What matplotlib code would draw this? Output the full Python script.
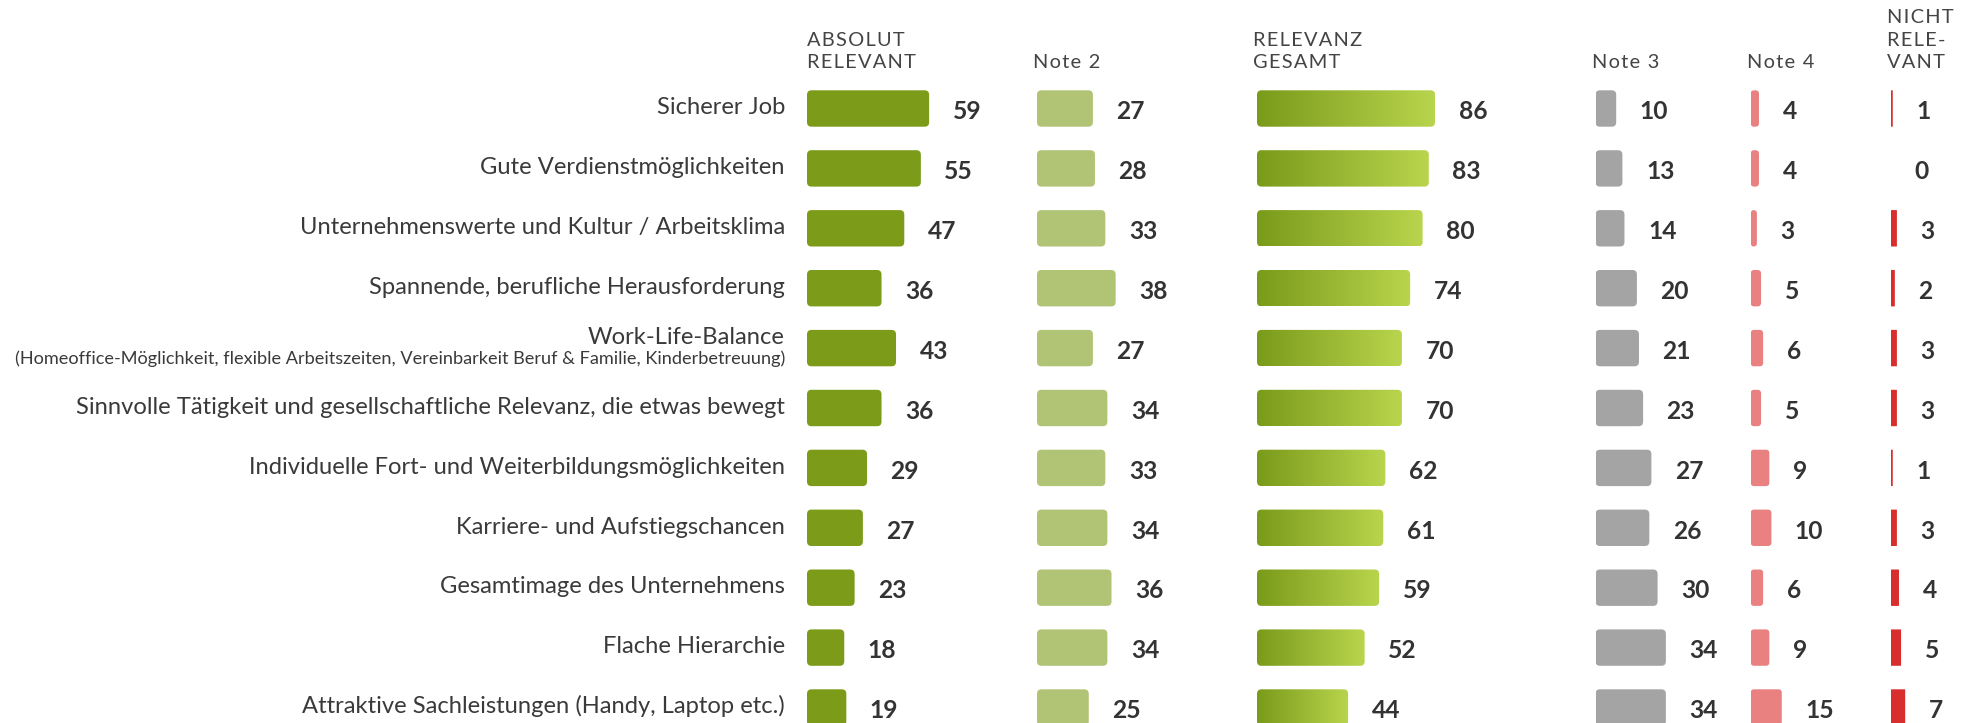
import matplotlib
matplotlib.use("Agg")
import matplotlib.pyplot as plt
import numpy as np
from matplotlib.patches import FancyBboxPatch
from matplotlib.colors import LinearSegmentedColormap
from matplotlib.transforms import offset_copy

plt.rcParams['font.family'] = ['Lato', 'DejaVu Sans']

# --- data ---
categories = [
    "Sicherer Job",
    "Gute Verdienstmöglichkeiten",
    "Unternehmenswerte und Kultur / Arbeitsklima",
    "Spannende, berufliche Herausforderung",
    "Work-Life-Balance",
    "Sinnvolle Tätigkeit und gesellschaftliche Relevanz, die etwas bewegt",
    "Individuelle Fort- und Weiterbildungsmöglichkeiten",
    "Karriere- und Aufstiegschancen",
    "Gesamtimage des Unternehmens",
    "Flache Hierarchie",
    "Attraktive Sachleistungen (Handy, Laptop etc.)",
]
subnotes = {
    4: "(Homeoffice-Möglichkeit, flexible Arbeitszeiten, Vereinbarkeit Beruf & Familie, Kinderbetreuung)",
}

absolut = [59, 55, 47, 36, 43, 36, 29, 27, 23, 18, 19]
note2 = [27, 28, 33, 38, 27, 34, 33, 34, 36, 34, 25]
gesamt = [86, 83, 80, 74, 70, 70, 62, 61, 59, 52, 44]
note3 = [10, 13, 14, 20, 21, 23, 27, 26, 30, 34, 34]
note4 = [4, 4, 3, 5, 6, 5, 9, 10, 6, 9, 15]
nicht = [1, 0, 3, 2, 3, 3, 1, 3, 4, 5, 7]

headers = [
    ["ABSOLUT", "RELEVANT"],
    ["Note 2"],
    ["RELEVANZ", "GESAMT"],
    ["Note 3"],
    ["Note 4"],
    ["NICHT", "RELE-", "VANT"],
]

# --- layout (pixels) ---
W, H = 1972, 723
PX = 2.07          # pixels per percentage point
ROW0 = 108.5       # centre of first row
ROW_STEP = 59.9
BAR_H = 36.4
col_x = [807, 1037, 1257, 1595.5, 1750.7, 1890.7]
hdr_dx = [0, -4, -4, -4, -4, -4]
col_colors = ['#7b9b19', '#b1c476', None, '#a4a4a4', '#e98181', '#d92e2e']
col_radius = [4.5, 4.5, 4.5, 4.5, 3.5, 0.5]
TXT = '#333333'

grad_cmap = LinearSegmentedColormap.from_list('relevanz', ['#7a9a1a', '#b9d54d'])

fig = plt.figure(figsize=(W / 100, H / 100), dpi=100)
fig.patch.set_facecolor('white')


def add_col(x0, span=240):
    ax = fig.add_axes([x0 / W, 0, span / W, 1])
    ax.set_xlim(0, span / PX)
    ax.set_ylim((H - ROW0) / ROW_STEP, -ROW0 / ROW_STEP)
    ax.axis('off')
    return ax


def shifted(ax, dx, dy):
    return offset_copy(ax.transData, fig=fig, x=dx, y=dy, units='dots')


def spaced(s):
    return "\u200a".join(s)


def draw_bar(ax, i, v, color, radius_px, gradient=False):
    if v <= 0:
        return
    h = BAR_H / ROW_STEP
    r = min(radius_px, v * PX / 2, BAR_H / 2) / PX
    patch = FancyBboxPatch((0, i - h / 2), v, h,
                           boxstyle=f"round,pad=0,rounding_size={r}",
                           mutation_aspect=PX / ROW_STEP,
                           fc='none' if gradient else color, ec='none')
    ax.add_patch(patch)
    if gradient:
        g = np.linspace(0, 1, 256).reshape(1, -1)
        im = ax.imshow(g, extent=(0, v, i + h / 2, i - h / 2), cmap=grad_cmap,
                       aspect='auto', interpolation='bilinear')
        im.set_clip_path(patch)


series = [absolut, note2, gesamt, note3, note4, nicht]
axes = []
for c, vals in enumerate(series):
    ax = add_col(col_x[c])
    axes.append(ax)
    for i, v in enumerate(vals):
        draw_bar(ax, i, v, col_colors[c], col_radius[c], gradient=(c == 2))
        ax.text(v, i, str(v), transform=shifted(ax, 23.5, -10.8),
                ha='left', va='baseline', fontsize=17.7, fontweight='bold',
                color=TXT)
    # column header, lines stacked upwards from the bottom line
    lines = headers[c]
    for k, line in enumerate(reversed(lines)):
        ax.text(0, 0, spaced(line), transform=shifted(ax, hdr_dx[c], 40.2 + 22.5 * k),
                ha='left', va='baseline', fontsize=14.4, color='#444444')
    ax.set_xlim(0, 240 / PX)
    ax.set_ylim((H - ROW0) / ROW_STEP, -ROW0 / ROW_STEP)

# category labels, right-aligned left of the first column
ax0 = axes[0]
for i, cat in enumerate(categories):
    if i in subnotes:
        ax0.text(0, i, cat, transform=shifted(ax0, -22, 4),
                 ha='right', va='baseline', fontsize=17.1, color='#3a3a3a')
        ax0.text(0, i, subnotes[i], transform=shifted(ax0, -22, -16),
                 ha='right', va='baseline', fontsize=13.05, color='#3a3a3a')
    else:
        ax0.text(0, i, cat, transform=shifted(ax0, -22, -5.8),
                 ha='right', va='baseline', fontsize=17.1, color='#3a3a3a')

fig.savefig("out.png", dpi=100, facecolor='white')
